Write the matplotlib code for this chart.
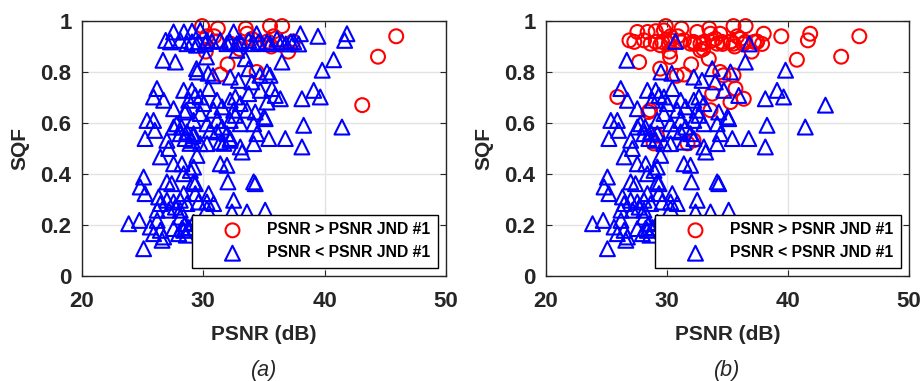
import numpy as np
import matplotlib.pyplot as plt

plt.rcParams['font.family'] = ['Liberation Sans', 'DejaVu Sans']

# Points whose PSNR is above the JND #1 threshold for both quality sets
psnr_above_both = [29.9, 31.2, 33.5, 35.5, 36.5, 33.6, 30.3, 30.9, 32.3, 33.0,
                   34.6, 35.3, 35.6, 36.3, 37.0, 37.4, 30.2, 32.0, 34.4, 31.4,
                   33.0, 35.8, 44.4, 45.9, 31.1, 34.0]
sqf_above_both = [0.98, 0.97, 0.97, 0.98, 0.98, 0.95, 0.94, 0.94, 0.91, 0.91,
                  0.91, 0.92, 0.90, 0.91, 0.88, 0.92, 0.88, 0.83, 0.80, 0.79,
                  0.89, 0.94, 0.86, 0.94, 0.92, 0.93]

# Above the threshold only in set (a)
psnr_above_a = [43.1]
sqf_above_a = [0.67]

# Above the threshold only in set (b)
psnr_above_b = [26.9, 27.55, 27.3, 28.4, 29.07, 28.1, 29.07, 29.75, 29.6, 30.3,
                31.4, 32.5, 32.2, 33.05, 33.74, 34.4, 34.56, 35.25, 36.07, 36.48,
                37.2, 37.86, 38.0, 39.45, 41.84, 41.65, 28.65, 30.16, 31.95, 32.77,
                34.15, 35.5, 37.45, 27.7, 32.77, 33.46, 40.74, 35.66, 33.74, 35.25,
                36.35, 25.9, 33.6, 28.6, 29.17, 32.2, 28.9, 31.7, 29.44, 28.47,
                34.67, 35.5, 30.8, 29.44, 30.26]
sqf_above_b = [0.924, 0.957, 0.918, 0.957, 0.96, 0.924, 0.918, 0.963, 0.918, 0.924,
               0.924, 0.957, 0.918, 0.918, 0.924, 0.95, 0.918, 0.918, 0.93, 0.918,
               0.918, 0.91, 0.95, 0.94, 0.95, 0.924, 0.911, 0.911, 0.911, 0.911,
               0.911, 0.911, 0.918, 0.839, 0.885, 0.852, 0.848, 0.735, 0.715, 0.682,
               0.695, 0.702, 0.65, 0.65, 0.55, 0.532, 0.52, 0.52, 0.813, 0.643,
               0.787, 0.787, 0.785, 0.905, 0.859]

# Below the threshold in both sets
psnr_below_both = [
    30.7, 36.8, 26.68, 36.48, 39.8, 29.5, 30.4, 32.22, 32.9, 35.25, 33.74, 34.0,
    26.18, 26.73, 27.55, 28.38, 29.07, 29.34, 28.8, 29.75, 30.44, 30.03, 31.13,
    30.85, 31.54, 32.22, 32.64, 33.05, 32.5, 34.7, 35.93, 34.28, 38.13, 39.1, 39.64,
    25.36, 25.9, 26.0, 25.2, 27.55, 27.8, 28.2, 28.65, 29.2, 29.75, 30.3, 30.58,
    31.13, 31.54, 31.95, 32.22, 32.64, 33.05, 34.15, 35.0, 35.1, 38.27, 41.43,
    28.1, 27.0, 28.5, 29.07, 29.75, 30.3, 31.4, 32.22, 33.05, 33.2, 34.15, 34.42,
    35.4, 36.76, 38.13, 31.13, 29.2,
    26.46, 27.14, 27.55, 28.24, 28.93, 29.2, 29.48, 31.4, 31.95, 28.38, 29.34,
    25.08, 24.8, 25.2, 27.0, 27.4, 29.2, 32.03, 34.15, 34.28, 28.38, 29.34, 30.44,
    26.32, 27.0, 26.46, 27.55, 28.1, 28.65, 29.6, 30.3, 30.85, 32.5, 26.2, 27.15,
    27.7, 30.3, 33.6, 35.1, 32.36, 28.1,
    23.85, 24.73, 25.63, 26.2, 25.9, 26.46, 26.73, 26.6, 27.55, 27.97, 28.38, 28.5,
    25.08, 28.1, 28.24, 28.8, 28.6, 29.2]
sqf_below_both = [
    0.92, 0.91, 0.846, 0.839, 0.807, 0.80, 0.795, 0.78, 0.767, 0.80, 0.813, 0.761,
    0.735, 0.689, 0.656, 0.728, 0.728, 0.708, 0.689, 0.702, 0.735, 0.676, 0.689,
    0.65, 0.663, 0.689, 0.702, 0.676, 0.65, 0.728, 0.708, 0.643, 0.695, 0.728, 0.702,
    0.61, 0.61, 0.571, 0.539, 0.584, 0.597, 0.584, 0.565, 0.61, 0.637, 0.597, 0.571,
    0.61, 0.584, 0.558, 0.61, 0.63, 0.597, 0.597, 0.624, 0.617, 0.591, 0.584,
    0.558, 0.532, 0.539, 0.532, 0.519, 0.519, 0.525, 0.539, 0.506, 0.486, 0.519, 0.558,
    0.539, 0.539, 0.506, 0.565, 0.558,
    0.467, 0.5, 0.44, 0.44, 0.414, 0.427, 0.473, 0.44, 0.434, 0.401, 0.362,
    0.388, 0.349, 0.323, 0.369, 0.362, 0.369, 0.369, 0.369, 0.362, 0.323, 0.323, 0.323,
    0.31, 0.297, 0.284, 0.29, 0.297, 0.284, 0.29, 0.29, 0.284, 0.297, 0.258, 0.258,
    0.27, 0.264, 0.251, 0.258, 0.251, 0.258,
    0.205, 0.218, 0.192, 0.218, 0.166, 0.179, 0.153, 0.14, 0.186, 0.166, 0.179, 0.205,
    0.107, 0.231, 0.187, 0.19, 0.16, 0.21]

labels = ['PSNR > PSNR JND #1', 'PSNR < PSNR JND #1']
panel_titles = ['(a)', '(b)']

dark = '#262626'

fig = plt.figure(figsize=(9.21, 3.81), dpi=100)
axes_pos = [[0.0890, 0.2756, 0.3952, 0.6693],
            [0.5928, 0.2756, 0.3941, 0.6693]]

groups = [
    (psnr_above_both + psnr_above_a, sqf_above_both + sqf_above_a,
     psnr_below_both + psnr_above_b, sqf_below_both + sqf_above_b),
    (psnr_above_both + psnr_above_b, sqf_above_both + sqf_above_b,
     psnr_below_both + psnr_above_a, sqf_below_both + sqf_above_a),
]

for pos, (xa, ya, xb, yb), title in zip(axes_pos, groups, panel_titles):
    ax = fig.add_axes(pos)
    ax.scatter(xa, ya, s=100, marker='o', facecolors='none', edgecolors='#ff0000',
               linewidths=1.5, label=labels[0], zorder=2, clip_on=False)
    ax.scatter(xb, yb, s=115, marker='^', facecolors='none', edgecolors='#0000ff',
               linewidths=1.5, label=labels[1], zorder=3, clip_on=False)

    ax.set_xlim(20, 50)
    ax.set_ylim(0, 1)
    ax.set_xticks([20, 30, 40, 50])
    ax.set_yticks([0, 0.2, 0.4, 0.6, 0.8, 1])
    ax.set_yticklabels(['0', '0.2', '0.4', '0.6', '0.8', '1'])
    ax.grid(True, color='#e3e3e3', linewidth=1, zorder=0)
    ax.set_axisbelow(True)
    ax.tick_params(direction='in', length=4, width=0.8, colors=dark,
                   top=True, right=True, labelsize=16)
    ax.tick_params(axis='x', pad=11)
    ax.tick_params(axis='y', pad=7.5)
    for t in ax.get_xticklabels() + ax.get_yticklabels():
        t.set_fontweight('bold')
    for sp in ax.spines.values():
        sp.set_color(dark)
        sp.set_linewidth(1)

    ax.set_xlabel('PSNR (dB)', fontsize=15, fontweight='bold', color=dark, labelpad=9)
    ax.set_ylabel('SQF', fontsize=15, fontweight='bold', color=dark, labelpad=8)
    ax.text(0.5, -0.37, title, transform=ax.transAxes, ha='center', va='center',
            fontsize=15.5, style='italic', color=dark)

    leg = ax.legend(loc='lower right', fontsize=11.3, frameon=True, fancybox=False,
                    framealpha=1, edgecolor='black', scatterpoints=1,
                    handlelength=4.2, handletextpad=0.1, borderpad=0.5,
                    labelspacing=0.5, borderaxespad=0.5)
    leg.get_frame().set_linewidth(1)
    leg.set_zorder(5)
    for t in leg.get_texts():
        t.set_fontweight('bold')

fig.savefig('out.png', dpi=100)
